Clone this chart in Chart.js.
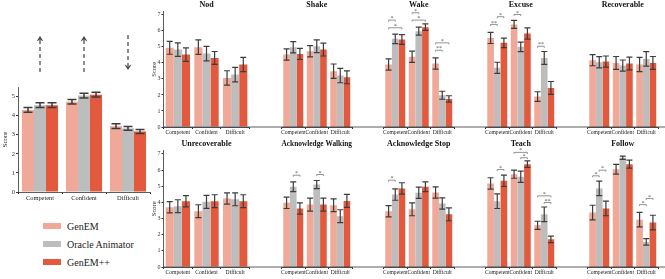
<!DOCTYPE html>
<html>
<head>
<meta charset="utf-8">
<script src="https://cdn.jsdelivr.net/npm/chart.js@4"></script>
<style>
  body { margin: 0; background: #fff; width: 665px; height: 279px; position: relative; overflow: hidden; font-family: "Liberation Serif", serif; }
  canvas { position: absolute; }
  .item { position: absolute; left: 43px; height: 12px; line-height: 12px; font-size: 10px; color: #222; white-space: nowrap; }
  .item span { display: inline-block; width: 18px; height: 6px; margin-right: 6px; vertical-align: 1px; }
</style>
</head>
<body>
<canvas id="overall" width="152" height="210" style="left:0;top:0"></canvas>
<div class="item" style="top:221px"><span style="background:#F0A898"></span>GenEM</div>
<div class="item" style="top:239px"><span style="background:#BDBDBD"></span>Oracle Animator</div>
<div class="item" style="top:257px"><span style="background:#E2593D"></span>GenEM++</div>
<script>
const conditions = ['Competent', 'Confident', 'Difficult'];
const methods = ['GenEM', 'Oracle Animator', 'GenEM++'];
const colors = ['#F0A898', '#BDBDBD', '#E2593D'];

// overall scores (left panel)
const overallGenem = [4.3, 4.73, 3.45];
const overallOracle = [4.55, 5.05, 3.33];
const overallPlus = [4.55, 5.1, 3.17];
const overallErr = [[0.12, 0.12, 0.12], [0.12, 0.12, 0.1], [0.12, 0.12, 0.1]];
const expected = ['up', 'up', 'down'];

const behaviors = ['Nod', 'Shake', 'Wake', 'Excuse', 'Recoverable',
  'Unrecoverable', 'Acknowledge Walking', 'Acknowledge Stop', 'Teach', 'Follow'];

const genem = [[4.94, 4.98, 3.06], [4.52, 4.73, 3.48], [3.9, 4.38, 3.96], [5.56, 6.4, 1.9], [4.17, 4.0, 3.9],
  [3.7, 3.45, 4.24], [3.97, 3.86, 3.82], [3.45, 3.57, 4.61], [5.17, 5.74, 2.58], [3.37, 6.05, 2.93]];
const oracle = [[4.83, 4.58, 3.27], [4.98, 5.04, 3.21], [5.5, 5.98, 1.98], [3.69, 5.0, 4.31], [4.04, 3.83, 4.25],
  [3.76, 4.03, 4.19], [4.96, 5.1, 3.14], [4.48, 4.59, 3.93], [4.07, 5.58, 3.26], [4.86, 6.76, 1.55]];
const genemPlus = [[4.52, 4.31, 3.9], [4.56, 4.83, 3.1], [5.46, 6.23, 1.75], [5.25, 5.83, 2.44], [4.08, 3.96, 4.0],
  [4.07, 4.07, 4.07], [3.62, 3.86, 4.09], [4.86, 4.96, 3.26], [5.33, 6.36, 1.71], [3.62, 6.36, 2.75]];

const genemErr = [[0.4, 0.45, 0.45], [0.35, 0.35, 0.45], [0.35, 0.35, 0.35], [0.35, 0.25, 0.3], [0.35, 0.4, 0.45],
  [0.35, 0.4, 0.35], [0.35, 0.4, 0.4], [0.35, 0.4, 0.35], [0.35, 0.25, 0.25], [0.45, 0.3, 0.45]];
const oracleErr = [[0.42, 0.45, 0.45], [0.35, 0.4, 0.45], [0.3, 0.25, 0.25], [0.35, 0.3, 0.4], [0.35, 0.35, 0.45],
  [0.4, 0.4, 0.4], [0.3, 0.25, 0.4], [0.35, 0.35, 0.35], [0.45, 0.35, 0.45], [0.45, 0.1, 0.2]];
const genemPlusErr = [[0.42, 0.4, 0.45], [0.35, 0.4, 0.4], [0.3, 0.2, 0.2], [0.3, 0.35, 0.4], [0.35, 0.4, 0.4],
  [0.35, 0.4, 0.4], [0.35, 0.4, 0.4], [0.35, 0.3, 0.4], [0.35, 0.2, 0.2], [0.45, 0.25, 0.45]];

// significance brackets: [behavior, condition, method a, method b, score level, label]
const significance = [
  [2, 0, 0, 1, 6.67, '*'], [2, 0, 0, 2, 6.19, '*'], [2, 1, 0, 1, 7.13, '*'], [2, 1, 0, 2, 6.67, '*'],
  [2, 2, 0, 2, 5.25, '*'], [2, 2, 0, 1, 4.79, '**'],
  [3, 0, 0, 1, 6.4, '**'], [3, 0, 1, 2, 6.88, '*'], [3, 1, 0, 1, 7.02, '*'], [3, 2, 0, 1, 5.04, '**'],
  [6, 0, 1, 2, 5.68, '*'], [6, 1, 1, 2, 5.72, '*'],
  [7, 0, 0, 1, 5.37, '*'],
  [8, 0, 1, 2, 6.03, '*'], [8, 1, 0, 2, 7.09, '*'], [8, 1, 1, 2, 6.76, '*'], [8, 2, 0, 2, 4.4, '*'], [8, 2, 1, 2, 3.99, '**'],
  [9, 0, 0, 1, 5.64, '*'], [9, 0, 1, 2, 5.99, '*'], [9, 2, 0, 1, 3.86, '*'], [9, 2, 1, 2, 4.24, '*']
];

Chart.defaults.font.family = '"Liberation Serif", serif';

function makeSets(a, b, c, catPct) {
  return [a, b, c].map((data, i) => ({
    label: methods[i],
    data: data,
    backgroundColor: colors[i],
    categoryPercentage: catPct,
    barPercentage: 1.0,
  }));
}

function errorBars(errs, cap, lw) {
  return {
    id: 'errorBars',
    afterDatasetsDraw(chart) {
      const ctx = chart.ctx;
      const y = chart.scales.y;
      ctx.save();
      ctx.strokeStyle = '#3c3c3c';
      ctx.lineWidth = lw;
      chart.data.datasets.forEach((ds, d) => {
        chart.getDatasetMeta(d).data.forEach((bar, i) => {
          const top = y.getPixelForValue(ds.data[i] + errs[d][i]);
          const bot = y.getPixelForValue(ds.data[i] - errs[d][i]);
          ctx.beginPath();
          ctx.moveTo(bar.x, top); ctx.lineTo(bar.x, bot);
          ctx.moveTo(bar.x - cap / 2, top); ctx.lineTo(bar.x + cap / 2, top);
          ctx.moveTo(bar.x - cap / 2, bot); ctx.lineTo(bar.x + cap / 2, bot);
          ctx.stroke();
        });
      });
      ctx.restore();
    }
  };
}

function brackets(list) {
  return {
    id: 'brackets',
    afterDatasetsDraw(chart) {
      const ctx = chart.ctx;
      ctx.save();
      ctx.strokeStyle = '#777';
      ctx.fillStyle = '#555';
      ctx.lineWidth = 0.8;
      ctx.font = '6px "Liberation Serif", serif';
      ctx.textAlign = 'center';
      ctx.textBaseline = 'bottom';
      list.forEach(([, c, a, b, level, label]) => {
        const xa = chart.getDatasetMeta(a).data[c].x;
        const xb = chart.getDatasetMeta(b).data[c].x;
        const yy = chart.scales.y.getPixelForValue(level);
        ctx.beginPath();
        ctx.moveTo(xa, yy + 1.5); ctx.lineTo(xa, yy); ctx.lineTo(xb, yy); ctx.lineTo(xb, yy + 1.5);
        ctx.stroke();
        ctx.fillText(label, (xa + xb) / 2, yy + 1.5);
      });
      ctx.restore();
    }
  };
}

function baseline(first) {
  return {
    id: 'baseline',
    afterDraw(chart) {
      const ctx = chart.ctx;
      const a = chart.chartArea;
      ctx.save();
      ctx.strokeStyle = '#333';
      ctx.lineWidth = 0.8;
      ctx.beginPath();
      ctx.moveTo(first ? a.left : 0, a.bottom);
      ctx.lineTo(chart.width, a.bottom);
      ctx.stroke();
      ctx.restore();
    }
  };
}

const arrows = {
  id: 'arrows',
  afterDraw(chart) {
    const ctx = chart.ctx;
    const x = chart.scales.x;
    ctx.save();
    ctx.strokeStyle = '#444';
    ctx.fillStyle = '#444';
    ctx.lineWidth = 1.2;
    expected.forEach((dir, i) => {
      const px = x.getPixelForValue(i);
      const tip = dir === 'up' ? 36 : 70;
      const tail = dir === 'up' ? 72 : 35;
      const s = dir === 'up' ? 1 : -1;
      ctx.setLineDash([4, 3]);
      ctx.beginPath();
      ctx.moveTo(px, tail); ctx.lineTo(px, tip + s * 4);
      ctx.stroke();
      ctx.setLineDash([]);
      ctx.beginPath();
      ctx.moveTo(px, tip);
      ctx.lineTo(px - 3.5, tip + s * 5.5);
      ctx.lineTo(px, tip + s * 3.5);
      ctx.lineTo(px + 3.5, tip + s * 5.5);
      ctx.closePath();
      ctx.fill();
    });
    ctx.restore();
  }
};

function intTicks(scale) {
  scale.ticks = scale.ticks.filter(t => Number.isInteger(t.value));
}

new Chart(document.getElementById('overall'), {
  type: 'bar',
  data: { labels: conditions, datasets: makeSets(overallGenem, overallOracle, overallPlus, 0.82) },
  options: {
    responsive: false,
    animation: false,
    layout: { padding: { top: 87, right: 2 } },
    plugins: { legend: { display: false }, tooltip: { enabled: false } },
    scales: {
      x: {
        grid: { display: true, drawOnChartArea: false, tickLength: 2, color: '#333' },
        border: { color: '#333', width: 0.8 },
        ticks: { font: { size: 6.4 }, color: '#222', padding: 0, maxRotation: 0, autoSkip: false },
        afterFit: s => { s.height = 18; }
      },
      y: {
        min: 0, max: 5.5,
        grid: { drawOnChartArea: false, tickLength: 2, color: '#333' },
        border: { color: '#333', width: 0.8 },
        ticks: { stepSize: 1, includeBounds: false, font: { size: 6.5 }, color: '#333', padding: 1 },
        afterBuildTicks: intTicks,
        title: { display: true, text: 'Score', font: { size: 7 }, color: '#222', padding: { top: 1, bottom: 0 } },
        afterFit: s => { s.width = 18; }
      }
    }
  },
  plugins: [errorBars(overallErr, 9, 1.5), arrows]
});

behaviors.forEach((name, b) => {
  const row = Math.floor(b / 5);
  const col = b % 5;
  const first = col === 0;
  const canvas = document.createElement('canvas');
  canvas.width = first ? 110 : 102;
  canvas.height = 140;
  canvas.style.left = (first ? 148 : 258 + (col - 1) * 102) + 'px';
  canvas.style.top = (row === 0 ? 0 : 139) + 'px';
  document.body.appendChild(canvas);

  new Chart(canvas, {
    type: 'bar',
    data: { labels: conditions, datasets: makeSets(genem[b], oracle[b], genemPlus[b], 0.85) },
    options: {
      responsive: false,
      animation: false,
      layout: { padding: { left: first ? 0 : 8, right: first ? 8.5 : 8 } },
      plugins: {
        legend: { display: false },
        tooltip: { enabled: false },
        title: {
          display: true, text: name, fullSize: false, color: '#111',
          font: { size: 8, weight: 'bold' }, padding: { top: 0, bottom: 2 }
        }
      },
      scales: {
        x: {
          grid: { display: true, drawOnChartArea: false, tickLength: 2, color: '#333' },
          border: { color: '#333', width: 0.8 },
          ticks: { font: { size: 5.6 }, color: '#222', padding: 0, maxRotation: 0, autoSkip: false },
          afterFit: s => { s.height = row === 0 ? 13 : 12; }
        },
        y: {
          display: first,
          min: 0, max: 7.2,
          grid: { drawOnChartArea: false, tickLength: 2, color: '#333' },
          border: { color: '#333', width: 0.8 },
          ticks: { stepSize: 1, includeBounds: false, font: { size: 6 }, color: '#333', padding: 1 },
          afterBuildTicks: intTicks,
          title: { display: true, text: 'Score', font: { size: 6.5 }, color: '#222', padding: { top: 2, bottom: 0 } },
          afterFit: s => { s.width = 15.5; }
        }
      }
    },
    plugins: [
      errorBars([genemErr[b], oracleErr[b], genemPlusErr[b]], 6, 1.2),
      brackets(significance.filter(s => s[0] === b)),
      baseline(first)
    ]
  });
});
</script>
</body>
</html>
